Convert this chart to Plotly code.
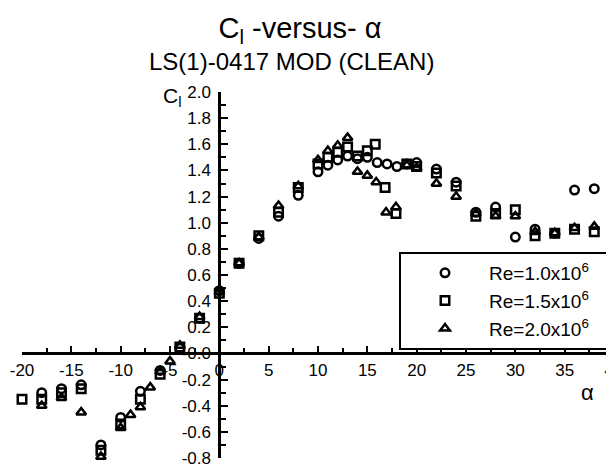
import plotly.graph_objects as go

# ---- data ----
alpha_re10 = [-18, -16, -14, -12, -10, -8, -6, -4, -2, 0, 2, 4, 6, 8, 10, 11, 12, 13, 14, 15, 16, 17, 18, 19, 20, 22, 24, 26, 28, 30, 32, 34, 36, 38]
cl_re10 = [-0.30, -0.27, -0.24, -0.70, -0.49, -0.29, -0.13, 0.04, 0.27, 0.48, 0.69, 0.88, 1.05, 1.21, 1.39, 1.44, 1.48, 1.51, 1.49, 1.50, 1.46, 1.45, 1.43, 1.45, 1.46, 1.41, 1.31, 1.08, 1.12, 0.89, 0.95, 0.92, 1.25, 1.26]

alpha_re15 = [-20, -18, -16, -14, -12, -10, -8, -6, -4, -2, 0, 2, 4, 6, 8, 10, 11, 12, 13, 14, 15, 15.8, 16.8, 17.9, 19, 20, 22, 24, 26, 28, 30, 32, 34, 36, 38]
cl_re15 = [-0.35, -0.35, -0.30, -0.27, -0.74, -0.54, -0.35, -0.16, 0.05, 0.27, 0.46, 0.69, 0.90, 1.08, 1.27, 1.45, 1.50, 1.54, 1.58, 1.51, 1.55, 1.60, 1.27, 1.07, 1.45, 1.43, 1.38, 1.28, 1.05, 1.07, 1.10, 0.90, 0.92, 0.95, 0.93]

alpha_re20 = [-18, -16, -14, -12, -10, -9, -8, -7, -6, -5, -4, -2, 0, 2, 4, 6, 8, 10, 11, 12, 13, 14, 15, 15.9, 16.9, 17.9, 19, 20, 22, 24, 26, 28, 30, 32, 34, 36, 38]
cl_re20 = [-0.40, -0.34, -0.45, -0.79, -0.57, -0.47, -0.41, -0.26, -0.14, -0.06, 0.06, 0.28, 0.47, 0.69, 0.89, 1.13, 1.28, 1.48, 1.55, 1.59, 1.65, 1.39, 1.36, 1.31, 1.08, 1.12, 1.44, 1.42, 1.30, 1.20, 1.07, 1.05, 1.05, 0.93, 0.92, 0.96, 0.97]

series_names = ["Re=1.0x10<sup>6</sup>", "Re=1.5x10<sup>6</sup>", "Re=2.0x10<sup>6</sup>"]
series_symbols = ["circle-open", "square-open", "triangle-up-open"]

x_tick_vals = [-20, -15, -10, -5, 0, 5, 10, 15, 20, 25, 30, 35, 40]
x_tick_text = ["-20", "-15", "-10", "-5", "0", "5", "10", "15", "20", "25", "30", "35", "40"]
y_tick_vals = [2.0, 1.8, 1.6, 1.4, 1.2, 1.0, 0.8, 0.6, 0.4, 0.2, 0.0, -0.2, -0.4, -0.6, -0.8]
y_tick_text = ["2.0", "1.8", "1.6", "1.4", "1.2", "1.0", "0.8", "0.6", "0.4", "0.2", "-0.0", "-0.2", "-0.4", "-0.6", "-0.8"]

x_range = [-20, 40]
y_range = [-0.8, 2.0]

FONT = "Liberation Sans, Arial, sans-serif"
W, H = 606, 462   # page body has an 8px margin inside the 614x470 window
PAD = "\u00a0" * 6  # the reference legend box runs past the right edge

fig = go.Figure()
for xs, ys, name, sym in zip([alpha_re10, alpha_re15, alpha_re20],
                             [cl_re10, cl_re15, cl_re20],
                             series_names, series_symbols):
    fig.add_trace(go.Scatter(
        x=xs, y=ys, mode="markers", name=name + PAD,
        marker=dict(symbol=sym, size=8.5, color="black", line=dict(color="black", width=2.5)),
        cliponaxis=False,
    ))

# axes cross at the origin
x_pos = (0 - y_range[0]) / (y_range[1] - y_range[0])
y_pos = (0 - x_range[0]) / (x_range[1] - x_range[0])

fig.update_layout(
    width=W, height=H,
    margin=dict(l=14, r=0, t=84, b=12, autoexpand=False),
    paper_bgcolor="white", plot_bgcolor="white",
    font=dict(family=FONT, color="black", size=17),
    title=dict(text="C<sub>l</sub> -versus- α", font=dict(size=29, family=FONT),
               xref="container", yref="container", x=(300 - 8) / W, y=1 - (28 - 8) / H,
               xanchor="center", yanchor="middle"),
    showlegend=True,
    legend=dict(x=(399 - 22) / 592, y=(458 - 252) / 366, xanchor="left", yanchor="top",
                bordercolor="black", borderwidth=2, bgcolor="white",
                font=dict(size=19, family=FONT), itemwidth=78),
    xaxis=dict(range=x_range, anchor="free", position=x_pos, automargin=False,
               showline=True, linewidth=3, linecolor="black",
               ticks="inside", ticklen=6, tickwidth=1.5, tickcolor="black",
               tickmode="array", tickvals=x_tick_vals, ticktext=x_tick_text,
               ticklabeloverflow="allow",
               minor=dict(tickmode="linear", tick0=0, dtick=2.5, ticks="inside", ticklen=4, tickwidth=1.5, tickcolor="black"),
               showgrid=False, zeroline=False, tickfont=dict(size=17)),
    yaxis=dict(range=y_range, anchor="free", position=y_pos, side="left", automargin=False,
               showline=True, linewidth=3, linecolor="black",
               ticks="inside", ticklen=7, tickwidth=1.5, tickcolor="black",
               tickmode="array", tickvals=y_tick_vals, ticktext=y_tick_text,
               ticklabeloverflow="allow",
               minor=dict(tickmode="linear", tick0=0, dtick=0.1, ticks="inside", ticklen=5, tickwidth=1.5, tickcolor="black"),
               showgrid=False, zeroline=False, tickfont=dict(size=17), ticklabelstandoff=4),
    annotations=[
        dict(text="LS(1)-0417 MOD (CLEAN)", xref="paper", yref="paper",
             x=(291 - 22) / 592, y=(458 - 62) / 366, xanchor="center", yanchor="middle",
             showarrow=False, font=dict(size=24, family=FONT)),
        dict(text="C<sub>l</sub>", xref="paper", yref="paper",
             x=(172 - 22) / 592, y=(458 - 97) / 366, xanchor="center", yanchor="middle",
             showarrow=False, font=dict(size=21, family=FONT)),
        dict(text="α", xref="paper", yref="paper",
             x=(587 - 22) / 592, y=(458 - 392) / 366, xanchor="center", yanchor="middle",
             showarrow=False, font=dict(size=22, family=FONT)),
    ],
)

fig.write_html("out.html")
